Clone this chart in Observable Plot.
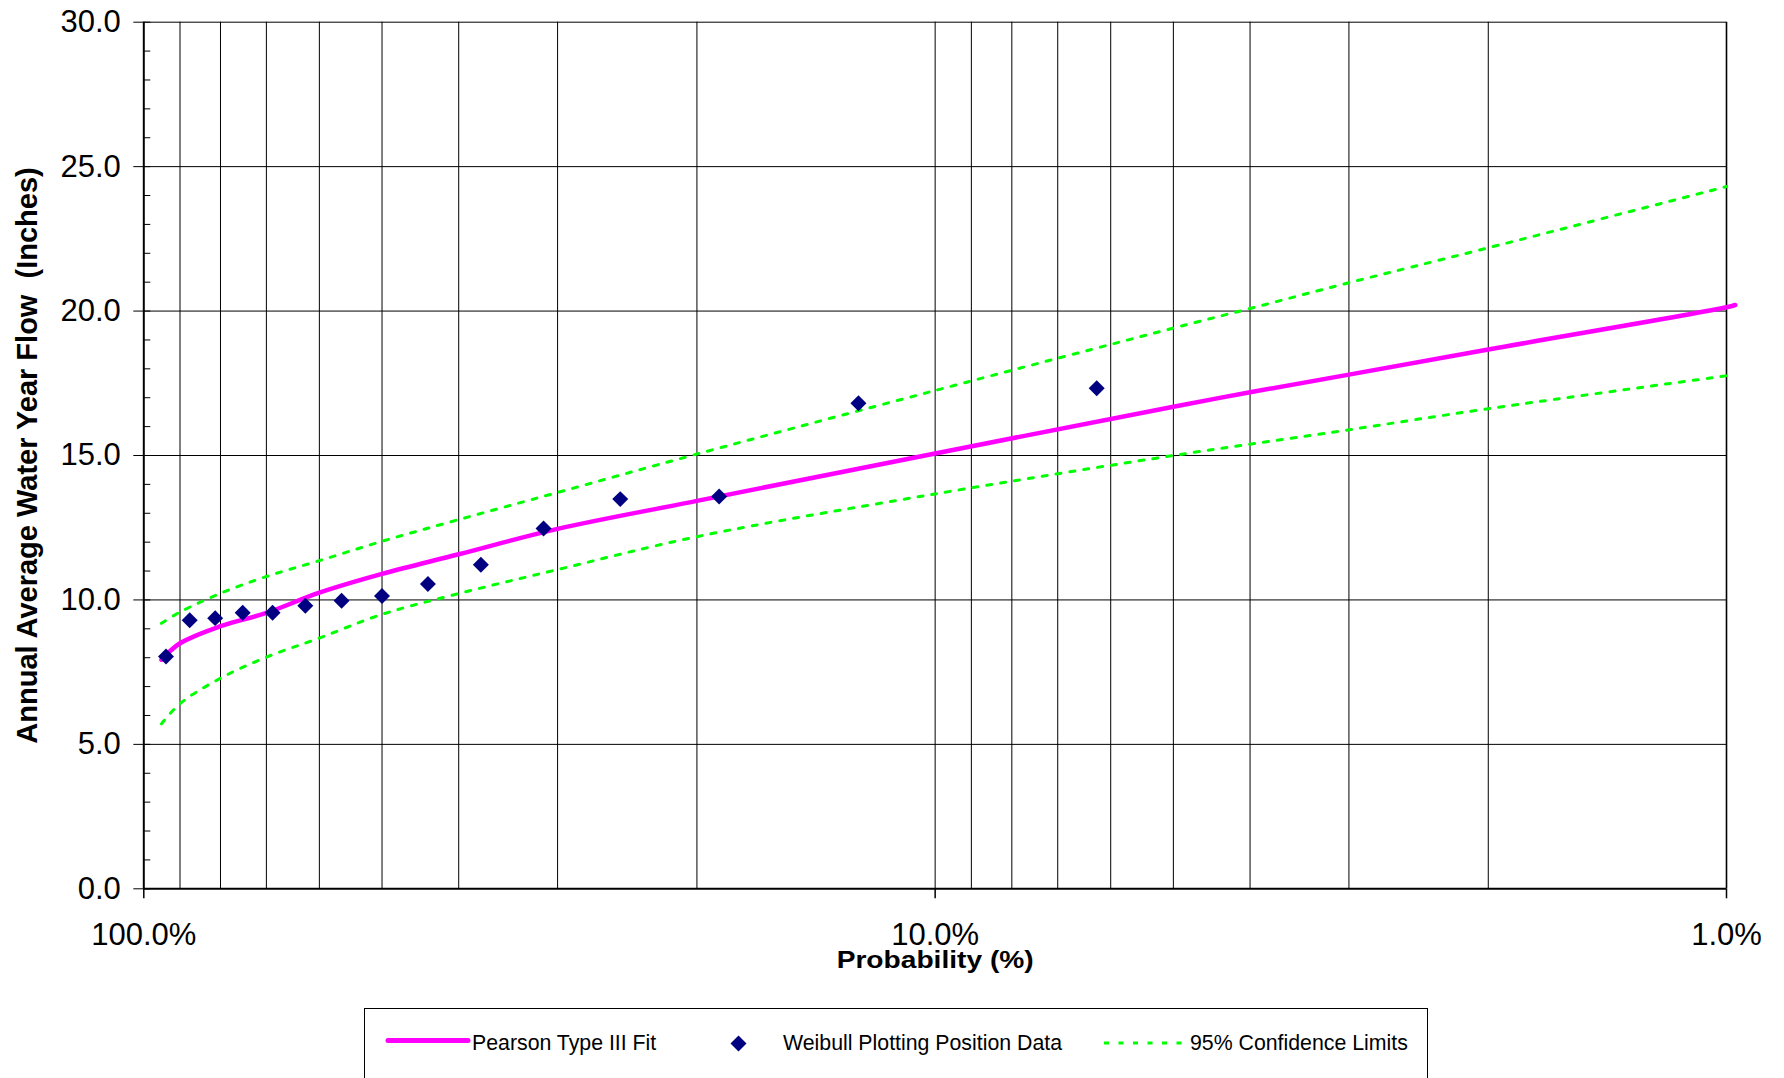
<!DOCTYPE html>
<html><head><meta charset="utf-8">
<script src="https://cdn.jsdelivr.net/npm/d3@7"></script>
<script src="https://cdn.jsdelivr.net/npm/@observablehq/plot@0.6"></script>
<style>
html,body{margin:0;padding:0;background:#fff;overflow:hidden;}
body{width:1784px;height:1078px;position:relative;font-family:"Liberation Sans",Arial,sans-serif;}
#legend{position:absolute;left:364px;top:1008px;width:1064px;height:110px;border:1.5px solid #000;box-sizing:border-box;}
.lg{position:absolute;font-size:21.3px;line-height:21px;color:#000;white-space:nowrap;}
.sw{position:absolute;overflow:visible;}
</style></head><body>
<div id="chart"></div>
<div id="legend"></div>
<script>
// Probabilities (%) of the fitted curve and the confidence limits
const curveP = [95, 90, 80, 70, 60, 50, 40, 30, 20, 10, 5, 4, 3, 2, 1];
const fitP = [95, 90, 80, 70, 60, 50, 40, 30, 20, 10, 5, 4, 3, 2, 1, 0.975];
const fitQ = [7.93, 8.50, 9.09, 9.55, 10.25, 10.90, 11.58, 12.46, 13.43, 15.07, 16.69, 17.19, 17.80, 18.67, 20.13, 20.21];
const upperQ = [9.19, 9.58, 10.23, 10.81, 11.36, 12.03, 12.78, 13.72, 15.05, 17.25, 19.41, 20.09, 20.98, 22.19, 24.31];
const lowerQ = [5.71, 6.41, 7.29, 8.02, 8.68, 9.50, 10.22, 11.05, 12.19, 13.67, 15.00, 15.39, 15.89, 16.62, 17.76];
// Weibull plotting positions (m/(n+1), n = 15) and observed flows
const weibullP = [93.75, 87.5, 81.25, 75, 68.75, 62.5, 56.25, 50, 43.75, 37.5, 31.25, 25, 18.75, 12.5, 6.25];
const weibullQ = [8.04, 9.30, 9.37, 9.56, 9.56, 9.80, 9.97, 10.14, 10.55, 11.22, 12.47, 13.49, 13.58, 16.81, 17.33];
// Axes and grid
const gridP = [90, 80, 70, 60, 50, 40, 30, 20, 10, 9, 8, 7, 6, 5, 4, 3, 2];
const xTickP = [100, 10, 1];
const yMajor = [0, 5, 10, 15, 20, 25, 30];
const yGrid = [5, 10, 15, 20, 25, 30];
const yMinor = [1,2,3,4,6,7,8,9,11,12,13,14,16,17,18,19,21,22,23,24,26,27,28,29];
const xTitle = "Probability (%)";
const yTitle = "Annual Average Water Year Flow  (Inches)";
const legendLabels = ["Pearson Type III Fit", "Weibull Plotting Position Data", "95% Confidence Limits"];
const colors = {fit: "#FF00FF", data: "#000080", ci: "#00FF00"};

const fit = fitP.map((p, i) => ({p, q: fitQ[i]}));
const upper = curveP.map((p, i) => ({p, q: upperQ[i]}));
const lower = curveP.map((p, i) => ({p, q: lowerQ[i]}));
const pts = weibullP.map((p, i) => ({p, q: weibullQ[i]}));

const chart = Plot.plot({
  width: 1784,
  height: 1000,
  marginLeft: 143.3,
  marginRight: 58,
  marginTop: 21.7,
  marginBottom: 111.7,
  style: {fontFamily: "'Liberation Sans', Arial, sans-serif", background: "#fff", color: "#000", overflow: "visible"},
  x: {type: "log", domain: [100, 1]},
  y: {domain: [0, 30]},
  marks: [
    Plot.ruleX(gridP, {stroke: "#000", strokeWidth: 1}),
    Plot.ruleY(yGrid, {stroke: "#000", strokeWidth: 1}),
    Plot.ruleX([1], {stroke: "#000", strokeWidth: 1.6}),
    Plot.ruleX([100], {stroke: "#000", strokeWidth: 2}),
    Plot.ruleY([0], {stroke: "#000", strokeWidth: 2}),
    Plot.axisY(yMinor, {tickSize: 7, dx: 7, fill: "none", stroke: "#000", label: null}),
    Plot.axisY(yMajor, {tickSize: 17, dx: 7, fill: "none", stroke: "#000", label: null}),
    Plot.axisY(yMajor, {tickSize: 0, tickPadding: 23, tickFormat: d => d.toFixed(1), fontSize: 31, label: null}),
    Plot.axisX(xTickP, {tickSize: 10, fill: "none", stroke: "#000", strokeWidth: 1.5, label: null}),
    Plot.axisX(xTickP, {tickSize: 0, tickPadding: 34, tickFormat: d => d.toFixed(1) + "%", fontSize: 31, label: null}),
    Plot.line(upper, {x: "p", y: "q", stroke: colors.ci, strokeWidth: 3, strokeDasharray: "5,9", curve: "catmull-rom"}),
    Plot.line(lower, {x: "p", y: "q", stroke: colors.ci, strokeWidth: 3, strokeDasharray: "5,9", curve: "catmull-rom"}),
    Plot.line(fit, {x: "p", y: "q", stroke: colors.fit, strokeWidth: 4.5, strokeLinejoin: "round", curve: "catmull-rom"}),
    Plot.dot(pts, {x: "p", y: "q", symbol: "diamond2", r: 7.2, fill: colors.data, stroke: "none"}),
    Plot.text([yTitle], {text: d => d, frameAnchor: "left", textAnchor: "middle", lineAnchor: "middle", dx: -116.5, rotate: -90, fontSize: 29, fontWeight: "bold", fill: "#000"}),
    Plot.text([xTitle], {text: d => d, frameAnchor: "bottom", textAnchor: "middle", lineAnchor: "middle", dy: 72, fontSize: 23, fontWeight: "bold", fill: "#000"})
  ]
});
document.getElementById("chart").appendChild(chart);
d3.select(chart).selectAll("text").filter(function() { return this.textContent === xTitle; })
  .attr("textLength", 197).attr("lengthAdjust", "spacingAndGlyphs");

// Legend (below the SVG)
const body = document.body;
function addSvg(left, top, w, h, inner) {
  const s = document.createElementNS("http://www.w3.org/2000/svg", "svg");
  s.setAttribute("class", "sw");
  s.setAttribute("width", w); s.setAttribute("height", h);
  s.style.left = left + "px"; s.style.top = top + "px";
  s.innerHTML = inner;
  body.appendChild(s);
}
function addText(left, top, txt) {
  const d = document.createElement("div");
  d.className = "lg"; d.style.left = left + "px"; d.style.top = top + "px";
  d.textContent = txt;
  body.appendChild(d);
}
addSvg(384, 1034, 90, 14, `<line x1="4" y1="6.5" x2="84" y2="6.5" stroke="${colors.fit}" stroke-width="5" stroke-linecap="round"/>`);
addText(472, 1033, legendLabels[0]);
addSvg(730, 1035, 17, 17, `<polygon points="8.5,0.5 16.5,8.5 8.5,16.5 0.5,8.5" fill="${colors.data}"/>`);
addText(783, 1033, legendLabels[1]);
addSvg(1104, 1039, 86, 8, `<line x1="0" y1="4" x2="86" y2="4" stroke="${colors.ci}" stroke-width="3" stroke-dasharray="5,9.5"/>`);
addText(1190, 1033, legendLabels[2]);
</script>
</body></html>
